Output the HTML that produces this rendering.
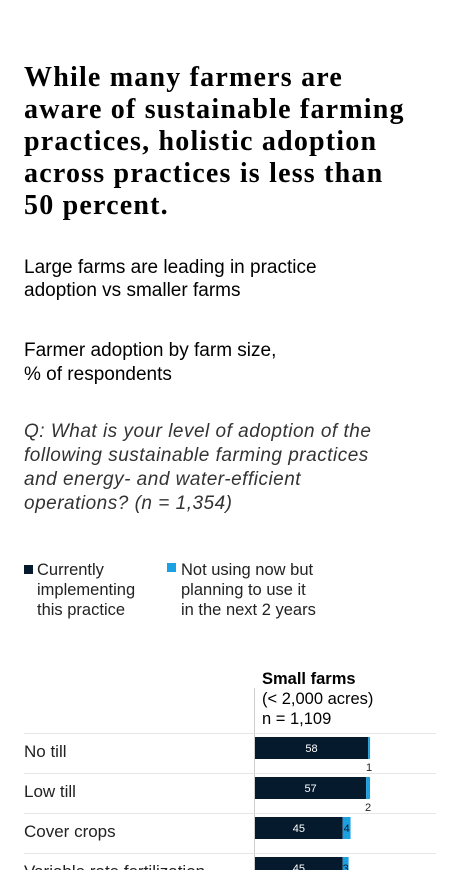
<!DOCTYPE html>
<html><head><meta charset="utf-8"><style>
body{margin:0;width:456px;height:870px;overflow:hidden;background:#fff;font-family:"Liberation Sans",sans-serif;color:#000;position:relative}
.a{position:absolute;margin:0;white-space:nowrap}
h1{position:absolute;left:24px;top:62px;margin:0;font:bold 28px/32px "Liberation Serif",serif;white-space:nowrap;letter-spacing:1.2px}
</style></head><body>
<h1>While many farmers are<br>aware of sustainable farming<br>practices, holistic adoption<br>across practices is less than<br>50 percent.</h1>
<div class="a" style="left:24px;top:256px;font-size:19px;line-height:23px">Large farms are leading in practice<br>adoption vs smaller farms</div>
<div class="a" style="left:24px;top:339px;font-size:19px;line-height:24px">Farmer adoption by farm size,<br>% of respondents</div>
<div class="a" style="left:24px;top:420px;font-size:19px;line-height:24px;font-style:italic;color:#333;letter-spacing:0.5px">Q: What is your level of adoption of the<br>following sustainable farming practices<br>and energy- and water-efficient<br>operations? (n = 1,354)</div>
<div class="a" style="left:24px;top:560px;font-size:16.5px;line-height:20px;color:#222"><span style="position:absolute;left:0;top:5px;width:9px;height:9px;background:#061a2e"></span><span style="position:absolute;left:13px;white-space:nowrap">Currently<br>implementing<br>this practice</span></div>
<div class="a" style="left:167px;top:560px;font-size:16.5px;line-height:20px;color:#222"><span style="position:absolute;left:0;top:3px;width:9px;height:9px;background:#1ba1e2"></span><span style="position:absolute;left:14px;white-space:nowrap">Not using now but<br>planning to use it<br>in the next 2 years</span></div>
<div class="a" style="left:262px;top:669px;font-size:16.5px;line-height:20px;white-space:nowrap"><b>Small farms</b><br>(&lt; 2,000 acres)<br>n = 1,109</div>
<svg id="c" class="a" style="left:0;top:0" width="456" height="870"></svg>
<script>
const categories=["No till","Low till","Cover crops","Variable rate fertilization"];
const current=[58,57,45,45];
const planning=[1,2,4,3];
const x0=255,sc=1.95,rowTop=733,rowH=40;
const xs=v=>v*sc;
const svg=document.getElementById('c');const ns='http://www.w3.org/2000/svg';
function mk(t,a){const e=document.createElementNS(ns,t);for(const k in a)e.setAttribute(k,a[k]);svg.appendChild(e);return e;}
const ax=mk('line',{x1:254.5,x2:254.5,y1:688,y2:870,stroke:'#ccc'});


categories.forEach((c,i)=>{
 const y=rowTop+i*rowH;
 const ln=mk('line',{x1:24,x2:436,y1:y+0.5,y2:y+0.5,stroke:'#e6e6e6'});
 
 
 const lb=mk('text',{x:24,y:y+24,'font-size':17,fill:'#222','font-family':'Liberation Sans'});lb.textContent=c;
 
 
 const w1=xs(current[i]),w2=xs(planning[i]);
 const b1=mk('rect',{x:x0,y:y+4,width:w1,height:22,fill:'#061a2e'});
 
 
 const b2=mk('rect',{x:x0+w1,y:y+4,width:w2,height:22,fill:'#1ba1e2'});
 
 
 const t1=mk('text',{x:x0+w1/2,y:y+19,'font-size':11,fill:'#fff','text-anchor':'middle','font-family':'Liberation Sans'});t1.textContent=current[i];
 
 
 const small=planning[i]<3;
 const t2=mk('text',{x:x0+w1+w2/2,y:small?y+38:y+19,'font-size':11,fill:small?'#222':'#061a2e','text-anchor':'middle','font-family':'Liberation Sans'});t2.textContent=planning[i];
 
 
});
</script>
</body></html>
